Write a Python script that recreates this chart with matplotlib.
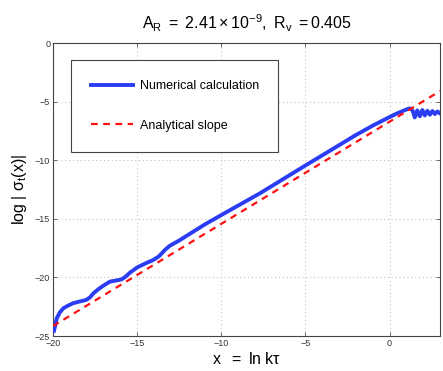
import numpy as np
import matplotlib
matplotlib.use("Agg")
import matplotlib.pyplot as plt

plt.rcParams['font.family'] = ['Liberation Sans', 'DejaVu Sans']
plt.rcParams['mathtext.fontset'] = 'custom'
plt.rcParams['mathtext.rm'] = 'Liberation Sans'
plt.rcParams['mathtext.it'] = 'Liberation Sans:italic'
plt.rcParams['mathtext.bf'] = 'Liberation Sans:bold'

# numerical curve
x_num = [-19.94, -19.85, -19.78, -19.6, -19.39, -19.1, -18.8, -18.4, -18.04, -17.8, -17.6,
         -17.3, -17.0, -16.62, -16.2, -15.93, -15.7, -15.43, -15.0, -14.5, -14.05, -13.7,
         -13.35, -13.06, -12.5, -12.0, -11.0, -10.0, -7.71, -5.0, -3.5, -2.0, -1.0, 0.0,
         0.5, 0.99, 1.19, 1.3, 1.38, 1.5, 1.65, 1.8, 1.95, 2.1, 2.25, 2.4, 2.55, 2.7, 2.85, 3.0]
y_num = [-24.55, -24.0, -23.5, -23.0, -22.64, -22.4, -22.2, -22.05, -21.93, -21.7, -21.36,
         -21.0, -20.7, -20.36, -20.25, -20.17, -19.95, -19.6, -19.15, -18.8, -18.52, -18.2,
         -17.66, -17.3, -16.85, -16.4, -15.5, -14.68, -12.83, -10.45, -9.15, -7.85, -7.05,
         -6.32, -5.97, -5.68, -5.58, -5.62, -5.8, -6.35, -5.75, -6.25, -5.72, -6.18, -5.78,
         -6.12, -5.8, -6.06, -5.84, -6.0]

# analytical slope
x_ana = [-20.0, 3.0]
y_ana = [-24.15, -4.1]

fig = plt.figure(figsize=(4.43, 3.71), dpi=100)
ax = fig.add_axes([0.1196, 0.0943, 0.8736, 0.7897])

ax.plot(x_num, y_num, color='#2b3cf5', lw=2.8, label='Numerical calculation', zorder=3)
ax.plot(x_ana, y_ana, color='#ff1010', lw=1.6, ls=(0, (3, 2.5)), label='Analytical slope', zorder=4)

ax.set_xlim(-20, 3)
ax.set_ylim(-25, 0)
ax.set_xticks([-20, -15, -10, -5, 0])
ax.set_yticks([-25, -20, -15, -10, -5, 0])
ax.tick_params(direction='in', labelsize=6.5, length=3, width=0.5, top=True, right=True,
               colors='#333333', pad=2)
for s in ax.spines.values():
    s.set_linewidth(0.8)
    s.set_color('#444444')
ax.grid(True, ls=(0, (1, 3)), color='#bbbbbb', lw=0.7)

ax.set_title(r'$\mathrm{A_R\ =\ 2.41\times10^{-9},\ R_v\ =0.405}$', fontsize=11.5, pad=10)
ax.set_xlabel(r'$\mathrm{x\ \ =\ ln\ k\tau}$', fontsize=11.5, labelpad=2)
ax.set_ylabel(r'$\mathrm{log\ |\ \sigma_t(x)|}$', fontsize=11.5, labelpad=4)

leg = ax.legend(loc='upper left', bbox_to_anchor=(0.0465, 0.642, 0.535, 0.3), mode='expand',
                borderaxespad=0, fontsize=9, handlelength=3.4, handletextpad=0.5,
                labelspacing=2.2, borderpad=1.6, fancybox=False, framealpha=1,
                edgecolor='#444444')
leg.get_frame().set_linewidth(0.8)

fig.savefig('out.png', dpi=100)
